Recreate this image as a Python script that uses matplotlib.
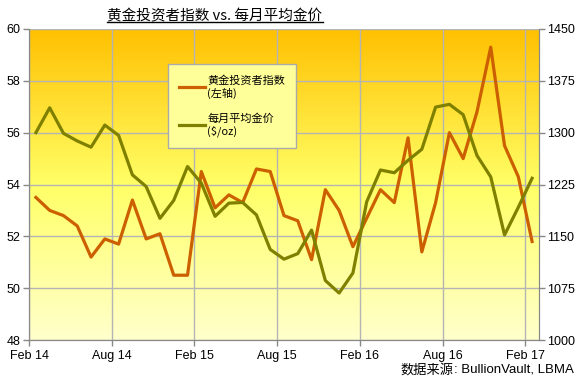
import numpy as np
import matplotlib
matplotlib.use('Agg')
import matplotlib.pyplot as plt
from matplotlib.colors import LinearSegmentedColormap
from matplotlib.lines import Line2D

plt.rcParams['font.family'] = ['Liberation Sans', 'Noto Sans CJK SC', 'DejaVu Sans']

# monthly data, Feb 2014 .. Feb 2017
investor_index = [53.5, 53.0, 52.8, 52.4, 51.2, 51.9, 51.7, 53.4, 51.9, 52.1, 50.5, 50.5,
                  54.5, 53.1, 53.6, 53.3, 54.6, 54.5, 52.8, 52.6, 51.1, 53.8, 53.0, 51.6,
                  52.7, 53.8, 53.3, 55.8, 51.4, 53.3, 56.0, 55.0, 56.8, 59.3, 55.5, 54.3, 51.8]
gold_price = [1300, 1336, 1299, 1288, 1279, 1311, 1296, 1239, 1222, 1176, 1202, 1251,
              1227, 1179, 1198, 1199, 1181, 1131, 1117, 1125, 1159, 1086, 1068, 1097,
              1200, 1246, 1242, 1260, 1276, 1337, 1341, 1326, 1267, 1236, 1152, 1192, 1234]
tick_labels = ['Feb 14', 'Aug 14', 'Feb 15', 'Aug 15', 'Feb 16', 'Aug 16', 'Feb 17']

title = '黄金投资者指数 vs. 每月平均金价'
label_index = '黄金投资者指数\n(左轴)'
label_gold = '每月平均金价\n($/oz)'
source_cn = '数据来源'
source_en = ': BullionVault, LBMA'

orange = '#CC6000'
olive = '#808000'
grey = '#888888'
cjk = ['Noto Sans CJK SC', 'DejaVu Sans']

fig = plt.figure(figsize=(5.78, 3.78), dpi=100)
ax2 = fig.add_axes([0.0502, 0.1005, 0.8823, 0.8228])
ax = ax2.twinx()  # left-axis index drawn on top
ax.yaxis.tick_left()
ax2.yaxis.tick_right()

# gradient background
cmap = LinearSegmentedColormap.from_list('bg', [(0, '#FFFFCC'), (0.5, '#FFFF66'), (1, '#FFC000')])
grad = np.linspace(0, 1, 256).reshape(-1, 1)
ax2.imshow(grad, cmap=cmap, aspect='auto', extent=[0, 1, 0, 1], origin='lower',
           transform=ax2.transAxes, zorder=0)

x = np.arange(len(investor_index)) + 0.5
ax2.set_xlim(0, 37)
ax2.set_ylim(1000, 1450)
ax2.set_yticks(np.arange(1000, 1451, 75))
ax2.set_xticks(np.arange(0, 37, 6))
ax2.set_xticklabels(tick_labels)
ax2.grid(True, color='#B4B4B4', lw=1, zorder=1)

ax.set_ylim(48, 60)
ax.set_yticks(np.arange(48, 61, 2))
ax.plot(x, investor_index, color=orange, lw=2.3, zorder=3)
# gold price mapped onto the top axes so it shares the z-order with the index line
ax.plot(x, np.interp(gold_price, [1000, 1450], [48, 60]), color=olive, lw=2.3, zorder=3)

for a in (ax, ax2):
    for s in a.spines.values():
        s.set_color(grey)
    a.spines['top'].set_visible(False)
    a.tick_params(colors=grey, labelcolor='black', labelsize=9, length=4, width=1)
ax2.tick_params(axis='y', pad=2)
ax2.tick_params(axis='x', pad=3)
ax.tick_params(axis='y', pad=2)

handles = [Line2D([], [], color=orange, lw=2.3), Line2D([], [], color=olive, lw=2.3)]
leg = ax.legend(handles, [label_index, label_gold], loc='upper left',
                bbox_to_anchor=(0.2725, 0.887), borderaxespad=0, frameon=True,
                fancybox=False, handlelength=2.3, labelspacing=1.3,
                borderpad=1.0, handletextpad=0.25, prop={'family': cjk, 'size': 8})
leg.get_frame().set_facecolor('#FFFF99')
leg.get_frame().set_edgecolor('#AAAAAA')
leg.get_frame().set_alpha(1)
leg.get_frame().set_linewidth(1)

t = fig.text(0.372, 0.957, title, ha='center', va='center', fontsize=10.5, family=cjk)
s_en = fig.text(0.992, 0.022, source_en, ha='right', va='center', fontsize=9.5,
                family=['Liberation Sans'])
fig.canvas.draw()
bb_en = s_en.get_window_extent().transformed(fig.transFigure.inverted())
fig.text(bb_en.x0, 0.022, source_cn, ha='right', va='center', fontsize=9.5, family=cjk)

bb = t.get_window_extent().transformed(fig.transFigure.inverted())
fig.add_artist(Line2D([bb.x0, bb.x1], [bb.y0 + 0.004, bb.y0 + 0.004], color='black', lw=1,
                      transform=fig.transFigure))

fig.savefig('out.png', dpi=100)
